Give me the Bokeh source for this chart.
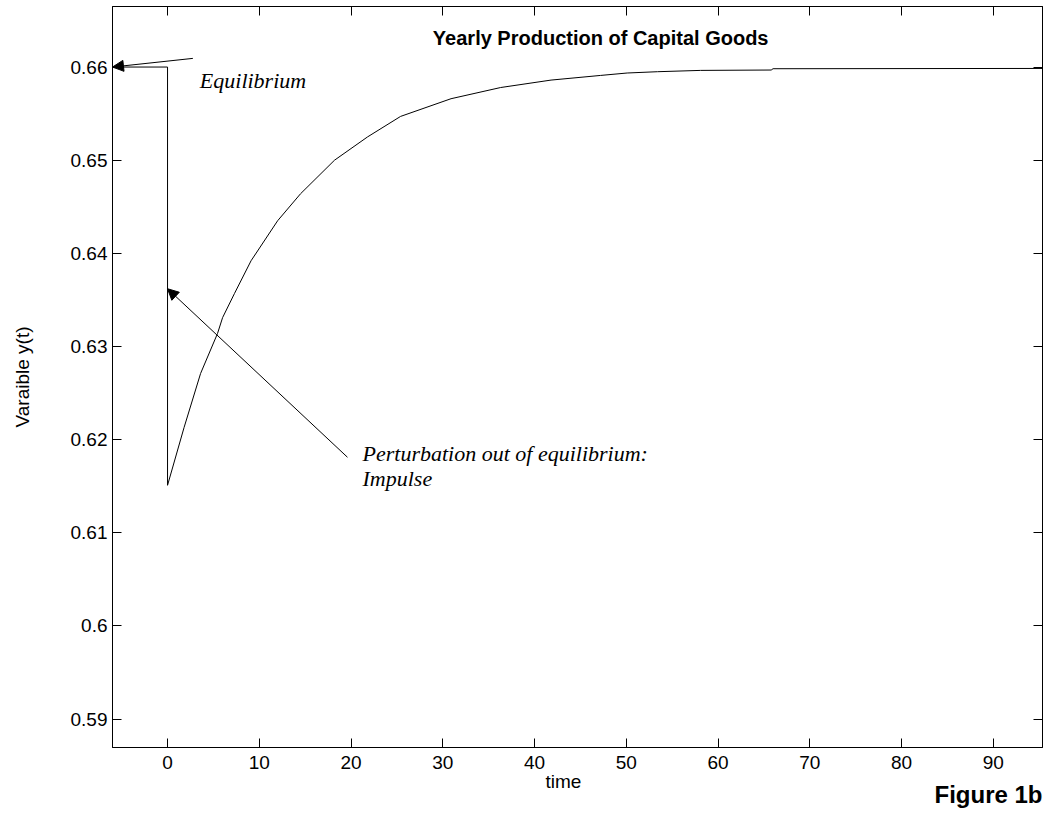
from bokeh.plotting import figure
from bokeh.models import (Range1d, FixedTicker, LinearAxis, Label, Arrow, NormalHead, Title)
from bokeh.embed import file_html
from bokeh.resources import INLINE

# ---- data ----
t_values = [-6.0, 0.0, 0.0, 1.8, 3.6, 5.45, 6.0, 7.3, 9.1, 12.0, 14.5, 18.2, 21.8,
            25.4, 30.9, 36.3, 41.8, 47.2, 50.1, 53.4, 58.1, 65.8, 66.0, 95.4]
y_values = [0.66, 0.66, 0.6151, 0.6213, 0.6271, 0.6314, 0.6331, 0.6357, 0.6392, 0.6435,
            0.6464, 0.6500, 0.6525, 0.6547, 0.6566, 0.6578, 0.6586, 0.6591, 0.65936,
            0.6595, 0.65964, 0.65968, 0.65982, 0.65985]
x_ticks = [0, 10, 20, 30, 40, 50, 60, 70, 80, 90]
y_ticks = [0.59, 0.6, 0.61, 0.62, 0.63, 0.64, 0.65, 0.66]
y_tick_labels = ["0.59", "0.6", "0.61", "0.62", "0.63", "0.64", "0.65", "0.66"]

title_text = "Yearly Production of Capital Goods"
x_label = "time"
y_label = "Varaible y(t)"
fig_label = "Figure 1b"
note_eq = "Equilibrium"
note_pert1 = "Perturbation out of equilibrium:"
note_pert2 = "Impulse"

SANS = "Liberation Sans"
SERIF = "Liberation Serif"

p = figure(width=1043, height=818, output_backend="svg", toolbar_location=None,
           x_range=Range1d(-6.0, 95.37), y_range=Range1d(0.58695, 0.6665),
           min_border_left=112, min_border_right=1, min_border_top=6,
           min_border_bottom=71, x_axis_location=None, y_axis_location=None)
p.background_fill_color = "white"
p.border_fill_color = "white"
p.outline_line_color = "black"
p.outline_line_width = 1
p.xgrid.visible = False
p.ygrid.visible = False

def style_axis(ax, ticks, show_labels):
    ax.ticker = FixedTicker(ticks=ticks)
    ax.axis_line_color = "black"
    ax.axis_line_width = 1
    ax.major_tick_in = 9
    ax.major_tick_out = 0
    ax.major_tick_line_color = "black"
    ax.minor_tick_line_color = None
    ax.major_label_text_font = SANS
    ax.major_label_text_color = "black"
    if show_labels:
        ax.major_label_text_font_size = "19px"
    else:
        ax.major_label_text_font_size = "0px"
        ax.major_label_standoff = 0

bottom = LinearAxis()
style_axis(bottom, x_ticks, True)
bottom.major_label_standoff = 8
p.add_layout(bottom, "below")

time_title = Title(text=x_label, align="left", offset=433, text_font=SANS,
                   text_font_style="normal", text_font_size="19px", text_color="black",
                   standoff=-5)
p.add_layout(time_title, "below")

fig_title = Title(text=fig_label, align="right", text_font=SANS, text_font_style="bold",
                  text_font_size="24px", text_color="black", standoff=-22)
p.add_layout(fig_title, "below")

left = LinearAxis()
style_axis(left, y_ticks, True)
left.major_label_standoff = 5
left.major_label_overrides = {v: s for v, s in zip(y_ticks, y_tick_labels)}
left.axis_label = y_label
left.axis_label_text_font = SANS
left.axis_label_text_font_style = "normal"
left.axis_label_text_font_size = "19px"
left.axis_label_text_color = "black"
left.axis_label_standoff = 35
p.add_layout(left, "left")

top = LinearAxis()
style_axis(top, x_ticks, False)
top.major_label_overrides = {v: "" for v in x_ticks}
p.add_layout(top, "above")

right = LinearAxis()
style_axis(right, y_ticks, False)
right.major_label_overrides = {v: "" for v in y_ticks}
p.add_layout(right, "right")

p.line(t_values, y_values, line_color="black", line_width=1)

# Title inside the plot area
p.add_layout(Label(x=47.21, y=0.66308, text=title_text, text_font=SANS,
                   text_font_style="bold", text_font_size="20px",
                   text_align="center", text_baseline="alphabetic", text_color="black"))

# annotations
p.add_layout(Label(x=3.52, y=0.65857, text=note_eq, text_font=SERIF,
                   text_font_style="italic", text_font_size="22px",
                   text_align="left", text_baseline="alphabetic", text_color="black"))
p.add_layout(Label(x=21.25, y=0.61847, text=note_pert1, text_font=SERIF,
                   text_font_style="italic", text_font_size="22px",
                   text_align="left", text_baseline="alphabetic", text_color="black"))
p.add_layout(Label(x=21.25, y=0.61582, text=note_pert2, text_font=SERIF,
                   text_font_style="italic", text_font_size="22px",
                   text_align="left", text_baseline="alphabetic", text_color="black"))

p.add_layout(Arrow(end=NormalHead(size=11, fill_color="black", line_color="black", line_width=1),
                   x_start=2.76, y_start=0.66093, x_end=-6.0, y_end=0.66,
                   line_color="black", line_width=1))
p.add_layout(Arrow(end=NormalHead(size=11, fill_color="black", line_color="black", line_width=1),
                   x_start=19.61, y_start=0.61811, x_end=0.0, y_end=0.6362,
                   line_color="black", line_width=1))

open("out.html", "w").write(file_html(p, INLINE))
